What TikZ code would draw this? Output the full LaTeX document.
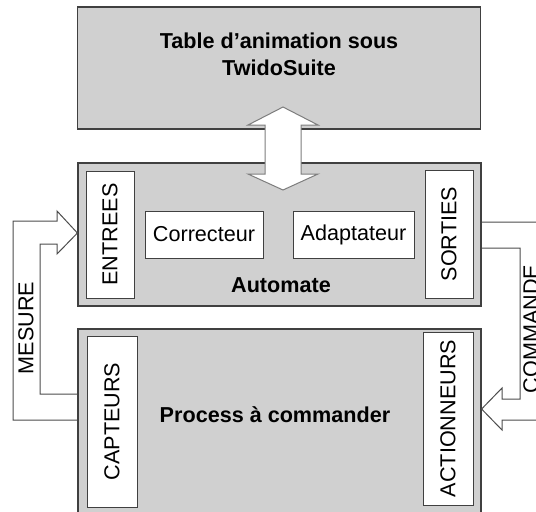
\documentclass[tikz,border=0pt]{standalone}
\usepackage{fontspec}
\setmainfont{Liberation Sans}
\usepackage{xcolor}
\usetikzlibrary{positioning}

\definecolor{boxgray}{RGB}{208,208,208}
\definecolor{edgegray}{RGB}{64,64,64}
\definecolor{arrowgray}{RGB}{125,125,125}

\begin{document}
\begin{tikzpicture}[x=0.5pt, y=-0.5pt,
    every node/.style={inner sep=0pt, font=\fontsize{10.8}{13}\selectfont},
    bigbox/.style={draw=edgegray, fill=boxgray, line width=0.6pt, minimum width=201.5pt},
    smallbox/.style={draw=edgegray, fill=white, line width=0.5pt},
    vbox/.style={smallbox, rotate=90, minimum height=24pt},
    title/.style={font=\bfseries\fontsize{10.8}{13.5}\selectfont, align=center},
    fatarrow/.style={draw=arrowgray, fill=white, line width=0.5pt},
    hollow/.style={draw=black!70, line width=0.5pt}]
    \useasboundingbox (0,0) rectangle (536,511);

    % Main blocks
    \node[bigbox, minimum height=61pt] (table) at (279,68) {};
    \node[bigbox, minimum height=71.5pt] (automate) at (279.5,234.5) {};
    \node[bigbox, minimum height=93.5pt] (process) at (279.5,422.5) {};

    % Inner blocks
    \node[vbox, minimum width=63.5pt] (entrees) at (110,234.5) {ENTREES};
    \node[smallbox, minimum width=59pt, minimum height=23.5pt] (correcteur) at (204,234.5) {Correcteur};
    \node[smallbox, minimum width=60.5pt, minimum height=23.5pt] (adaptateur) at (353.5,234.5) {Adaptateur};
    \node[vbox, minimum width=64pt] (sorties) at (449,234) {SORTIES};
    \node[vbox, minimum width=85.5pt, minimum height=25pt] (capteurs) at (112,421.5) {CAPTEURS};
    \node[vbox, minimum width=86.5pt, minimum height=25pt] (actionneurs) at (448,418.5) {ACTIONNEURS};

    % Block titles
    \node[title] (tabletitle) at (279,54) {Table d’animation sous\\TwidoSuite};
    \node[title] (automatetitle) at (281,285) {Automate};
    \node[title] (processtitle) at (275,415) {Process à commander};

    % Exchange arrow
    \draw[fatarrow] (283,107) -- (318,125) -- (301,125) -- (301,174) -- (318,174) -- (283,190)
        -- (248,174) -- (265,174) -- (265,125) -- (248,125) -- cycle;

    % Loop arrows
    \draw[hollow] (process.west |- 0,420) -- (13,420) -- (13,221) -- (57,221) -- (57,211)
        -- (automate.west |- 0,233) -- (57,254) -- (57,244) -- (40,244) -- (40,394)
        -- (process.west |- 0,394);
    \draw[hollow] (automate.east |- 0,222) -- (545,222) -- (545,420) -- (502,420) -- (502,430)
        -- (process.east |- 0,409) -- (502,388) -- (502,399) -- (520,399) -- (520,248)
        -- (automate.east |- 0,248);
    \node[rotate=90] (mesure) at (26,328) {MESURE};
    \node[rotate=90] (commande) at (531,329) {COMMANDE};
\end{tikzpicture}
\end{document}
